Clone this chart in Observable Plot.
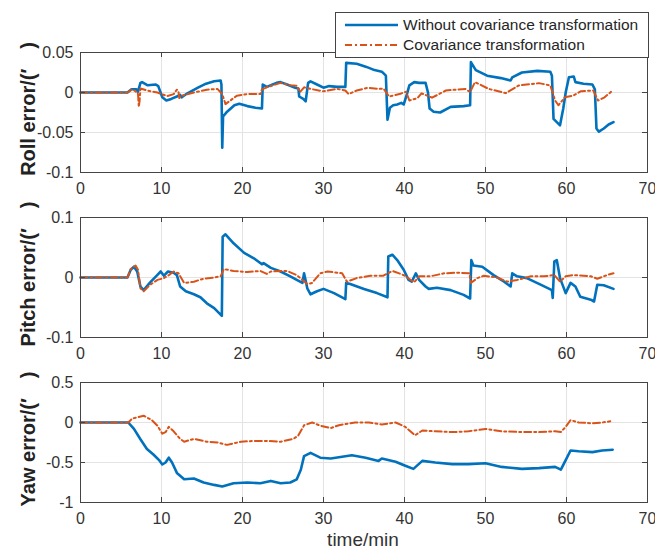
<!DOCTYPE html>
<html><head><meta charset="utf-8">
<script src="https://cdn.jsdelivr.net/npm/d3@7"></script>
<script src="https://cdn.jsdelivr.net/npm/@observablehq/plot@0.6"></script>
<style>
body{margin:0;background:#fff;}
#wrap{position:relative;width:655px;height:552px;font-family:"Liberation Sans",Arial,sans-serif;color:#333;background:#fff;overflow:hidden;}
.panel{position:absolute;left:0;}
.ylab{position:absolute;font-weight:bold;font-size:20px;white-space:pre;transform:translate(-50%,-50%) rotate(-90deg);color:#222;}
#xlab{position:absolute;left:363px;top:540px;transform:translate(-50%,-50%);font-size:19px;color:#333;white-space:nowrap;}
#legend{position:absolute;left:335px;top:12px;width:312px;height:44px;border:1px solid #444;background:#fff;}
#legend .row{position:absolute;left:0;height:20px;display:flex;align-items:center;}
#legend svg{margin-left:9px;margin-right:5px;}
#legend span{font-size:15.5px;color:#262626;white-space:nowrap;}
</style></head>
<body>
<div id="wrap"></div>
<script>
// time/min ticks
const xTicks = [0, 10, 20, 30, 40, 50, 60, 70];
const seriesNames = ["Without covariance transformation", "Covariance transformation"];
const yLabels = ["Roll error/(\u2032\u2003)", "Pitch error/(\u2032\u2003)", "Yaw error/(\u2032\u2003)"];
const rollTicks = [-0.1, -0.05, 0, 0.05];
const pitchTicks = [-0.1, 0, 0.1];
const yawTicks = [-1, -0.5, 0, 0.5];

// [time/min, error]
const rollWithout = [[0,0],[5.8,0],[6.3,0.004],[6.9,0.004],[7.1,0.001],[7.4,0.012],[7.6,0.013],[8.3,0.009],[9.3,0.010],[9.6,0.008],[10.1,-0.006],[10.6,-0.010],[11.2,-0.008],[11.9,-0.005],[12.3,-0.003],[12.5,-0.006],[13.2,-0.001],[14.5,0.006],[15.5,0.011],[16.5,0.014],[17.3,0.015],[17.4,0.010],[17.5,-0.069],[17.6,-0.030],[18.1,-0.024],[19.0,-0.016],[19.6,-0.014],[20.6,-0.017],[21.6,-0.019],[22.4,-0.020],[22.5,0.010],[23.0,0.007],[23.5,0.009],[24.2,0.012],[24.7,0.013],[25.5,0.010],[26.5,0.006],[26.9,0.005],[27.0,-0.005],[27.5,-0.008],[27.8,-0.011],[28.1,0.012],[28.4,0.014],[29.2,0.010],[30.0,0.006],[30.7,0.008],[31.7,0.007],[32.7,0.007],[32.8,0.037],[34.1,0.036],[35.3,0.032],[36.3,0.028],[37.2,0.026],[37.7,0.021],[37.9,-0.034],[38.2,-0.019],[38.6,-0.016],[39.1,-0.015],[39.6,-0.013],[39.9,-0.015],[40.3,-0.002],[40.6,0.009],[41.2,0.013],[41.8,0.012],[42.6,0.012],[42.9,0.000],[43.1,-0.020],[43.6,-0.024],[44.4,-0.025],[45.7,-0.018],[47.3,-0.017],[48.1,-0.016],[48.2,0.038],[48.8,0.028],[50.2,0.021],[51.9,0.018],[53.1,0.015],[53.3,0.019],[54.5,0.025],[56.4,0.027],[58.0,0.026],[58.2,0.021],[58.4,-0.033],[58.8,-0.037],[59.2,-0.041],[59.6,-0.020],[59.9,0.000],[60.3,0.019],[60.9,0.020],[61.1,0.013],[62.1,0.011],[63.2,0.010],[63.5,0.004],[63.7,-0.045],[64.0,-0.049],[64.6,-0.045],[65.2,-0.040],[65.8,-0.037]];
const rollCov = [[0,0],[5.8,0],[6.4,0.004],[7.0,0.000],[7.1,-0.002],[7.2,-0.018],[7.3,-0.010],[7.4,0.005],[8.2,0.0025],[9.5,0.000],[10.7,-0.0045],[11.5,-0.002],[11.9,0.0035],[12.1,0.001],[12.2,-0.007],[12.5,-0.004],[14.0,0.000],[15.6,0.0035],[16.9,0.0045],[17.5,-0.002],[17.9,-0.0145],[18.5,-0.010],[19.3,-0.004],[20.6,-0.002],[22.2,-0.002],[22.4,0.004],[23.0,0.0065],[24.7,0.012],[25.9,0.009],[26.7,0.0085],[27.1,0.0005],[27.6,0.0065],[28.4,0.0045],[30.0,0.0015],[31.7,0.0045],[32.7,0.0025],[33.1,-0.002],[34.1,0.0025],[35.5,0.006],[36.8,0.0045],[37.4,0.005],[38.1,-0.005],[39.5,-0.0015],[40.2,0.001],[40.6,-0.010],[41.6,-0.007],[42.1,-0.001],[43.4,-0.0065],[45.1,0.0025],[47.5,0.0045],[48.1,0.0005],[48.7,0.013],[50.4,0.0045],[52.5,-0.0008],[54.1,0.0088],[56.6,0.0117],[58.0,0.0088],[58.6,-0.010],[59.0,-0.016],[59.8,-0.006],[60.8,-0.004],[61.8,0.0017],[63.3,0.0025],[63.9,-0.010],[64.7,-0.006],[65.6,0.0017]];

const pitchWithout = [[0,0],[5.8,0],[6.2,0.013],[6.6,0.018],[7.0,0.010],[7.4,-0.015],[7.8,-0.021],[8.6,-0.008],[9.5,0.0045],[9.9,0.010],[10.3,0.003],[10.8,0.010],[11.5,0.008],[11.9,0.004],[12.3,-0.015],[13.0,-0.023],[14.0,-0.028],[14.8,-0.033],[15.6,-0.043],[16.5,-0.051],[17.3,-0.062],[17.45,-0.064],[17.55,0.068],[17.9,0.072],[18.9,0.057],[20.2,0.041],[21.4,0.032],[22.4,0.022],[22.6,0.024],[23.5,0.016],[24.7,0.010],[25.9,0.002],[26.7,-0.004],[27.4,-0.009],[27.6,0.007],[28.0,-0.018],[28.4,-0.028],[29.2,-0.023],[30.0,-0.019],[31.3,-0.026],[32.7,-0.036],[32.8,-0.009],[33.3,-0.011],[35.0,-0.019],[36.6,-0.026],[37.9,-0.033],[38.0,0.035],[38.5,0.038],[39.1,0.029],[39.9,0.013],[40.5,-0.004],[40.9,-0.007],[41.4,0.007],[41.8,-0.004],[42.6,-0.015],[43.0,-0.019],[44.0,-0.017],[45.7,-0.021],[47.3,-0.029],[48.1,-0.035],[48.25,0.029],[48.5,0.020],[49.6,0.018],[51.0,0.004],[52.3,-0.007],[53.1,-0.015],[53.3,0.007],[53.9,0.002],[55.1,-0.001],[56.8,-0.012],[58.2,-0.021],[58.3,-0.034],[58.5,0.027],[58.8,0.029],[59.2,-0.001],[59.9,-0.026],[60.5,-0.009],[61.1,-0.015],[61.7,-0.032],[63.0,-0.037],[63.4,-0.040],[63.8,-0.012],[64.6,-0.013],[65.8,-0.019]];
const pitchCov = [[0,0],[5.8,0],[6.2,0.014],[6.8,0.020],[7.1,0.013],[7.4,-0.018],[7.8,-0.023],[8.6,-0.012],[9.5,-0.004],[10.3,-0.001],[10.9,0.004],[11.5,0.010],[12.1,0.007],[12.8,-0.009],[14.0,-0.007],[15.2,-0.002],[16.5,0.000],[17.3,0.002],[17.7,0.014],[18.9,0.011],[20.6,0.009],[22.2,0.011],[23.0,0.006],[23.5,0.010],[25.5,0.011],[26.7,0.004],[27.4,-0.004],[28.0,-0.011],[28.6,-0.009],[29.6,0.007],[30.5,0.010],[32.3,0.007],[32.9,-0.007],[34.1,-0.001],[35.8,0.003],[37.4,0.003],[38.5,0.011],[39.9,0.004],[41.2,-0.008],[41.8,0.002],[43.2,0.002],[44.9,0.007],[46.5,0.008],[48.0,0.007],[48.2,-0.009],[49.0,-0.001],[49.8,0.003],[51.4,0.000],[52.7,-0.007],[53.9,-0.004],[55.6,0.002],[57.2,0.002],[58.5,0.004],[59.2,-0.007],[59.9,0.002],[60.9,0.004],[63.0,0.002],[63.8,-0.002],[65.0,0.004],[65.8,0.007]];

const yawWithout = [[0,0],[5.9,0],[6.6,-0.08],[7.4,-0.21],[8.2,-0.33],[9.0,-0.40],[9.7,-0.47],[10.1,-0.525],[10.5,-0.50],[10.9,-0.44],[11.3,-0.50],[11.9,-0.63],[12.8,-0.71],[14.0,-0.70],[15.2,-0.75],[16.5,-0.78],[17.5,-0.80],[18.9,-0.76],[20.6,-0.75],[22.2,-0.76],[23.5,-0.73],[24.7,-0.76],[25.9,-0.75],[26.7,-0.71],[27.2,-0.59],[27.6,-0.42],[28.4,-0.38],[29.6,-0.44],[30.9,-0.45],[33.5,-0.41],[35.2,-0.44],[36.8,-0.48],[37.2,-0.45],[38.9,-0.49],[40.1,-0.54],[41.1,-0.58],[42.2,-0.48],[43.8,-0.50],[45.9,-0.52],[47.9,-0.52],[50.0,-0.51],[52.0,-0.555],[54.5,-0.58],[56.6,-0.57],[58.6,-0.555],[59.3,-0.59],[59.9,-0.47],[60.5,-0.35],[61.5,-0.36],[63.2,-0.37],[64.4,-0.35],[65.7,-0.34]];
const yawCov = [[0,0],[5.9,0],[6.4,0.05],[7.8,0.085],[8.8,0.03],[9.5,-0.04],[10.1,-0.14],[10.5,-0.12],[10.9,-0.055],[11.5,-0.11],[12.3,-0.205],[12.8,-0.24],[14.0,-0.205],[15.6,-0.24],[16.9,-0.25],[18.1,-0.28],[19.8,-0.24],[21.4,-0.23],[23.0,-0.23],[24.7,-0.24],[26.3,-0.205],[26.9,-0.16],[27.6,-0.035],[28.6,0.0],[29.6,-0.04],[30.9,-0.07],[31.9,-0.034],[33.9,0],[35.6,0],[37.2,-0.025],[38.9,0],[40.1,-0.055],[41.3,-0.16],[42.2,-0.10],[43.8,-0.11],[45.9,-0.12],[47.9,-0.11],[50.0,-0.08],[52.0,-0.11],[54.5,-0.12],[56.6,-0.12],[58.6,-0.11],[59.3,-0.12],[59.9,-0.055],[60.5,0.03],[61.5,0.0],[63.2,-0.01],[64.4,0.0],[65.4,0.015]];

const BLUE = "#0072BD", ORANGE = "#D95319", DASH = "7,3,2,3";
const wrap = document.getElementById("wrap");
const H = 200, MT = 52, MB = 28, FH = H - MT - MB, FW = 655 - 80 - 8;

function panel(blue, orange, ticks, label, top) {
  const p = Plot.plot({
    width: 655, height: H, marginTop: MT, marginBottom: MB, marginLeft: 80, marginRight: 8,
    style: {fontFamily: '"Liberation Sans", Arial, sans-serif', fontSize: "16px", color: "#333", background: "transparent", overflow: "visible"},
    x: {domain: [0, 70]},
    y: {domain: [ticks[0], ticks[ticks.length - 1]]},
    marks: [
      Plot.gridX(xTicks, {stroke: "#e3e3e3", strokeOpacity: 1}),
      Plot.gridY(ticks, {stroke: "#e3e3e3", strokeOpacity: 1}),
      Plot.line(blue, {x: d => d[0], y: d => d[1], stroke: BLUE, strokeWidth: 2.6, strokeLinejoin: "round"}),
      Plot.line(orange, {x: d => d[0], y: d => d[1], stroke: ORANGE, strokeWidth: 2, strokeDasharray: DASH}),
      Plot.tickX(xTicks, {x: d => d, insetTop: FH - 5, stroke: "#444"}),
      Plot.tickX(xTicks, {x: d => d, insetBottom: FH - 5, stroke: "#444"}),
      Plot.tickY(ticks, {y: d => d, insetRight: FW - 5, stroke: "#444"}),
      Plot.tickY(ticks, {y: d => d, insetLeft: FW - 5, stroke: "#444"}),
      Plot.frame({stroke: "#444"}),
      Plot.axisX(xTicks, {tickSize: 0, tickPadding: 10, label: null, tickFormat: d => String(d)}),
      Plot.axisY(ticks, {tickSize: 0, tickPadding: 7, label: null, tickFormat: d => String(d)})
    ]
  });
  p.classList.add("panel");
  p.style.top = top + "px";
  wrap.appendChild(p);
  const l = document.createElement("div");
  l.className = "ylab";
  l.textContent = label;
  l.style.left = "28px";
  l.style.top = (top + MT + FH / 2 - 3) + "px";
  wrap.appendChild(l);
}

panel(rollWithout, rollCov, rollTicks, yLabels[0], 0);
panel(pitchWithout, pitchCov, pitchTicks, yLabels[1], 165);
panel(yawWithout, yawCov, yawTicks, yLabels[2], 330);

const xl = document.createElement("div");
xl.id = "xlab"; xl.textContent = "time/min";
wrap.appendChild(xl);

const leg = document.createElement("div");
leg.id = "legend";
[[BLUE, null, 2.6, 2], [ORANGE, DASH, 2, 22]].forEach(([c, dash, w, y], i) => {
  const row = document.createElement("div");
  row.className = "row";
  row.style.top = y + "px";
  row.innerHTML = `<svg width="53" height="10"><line x1="0" x2="53" y1="5" y2="5" stroke="${c}" stroke-width="${w}" ${dash ? `stroke-dasharray="${dash}"` : ""}/></svg><span></span>`;
  row.querySelector("span").textContent = seriesNames[i];
  leg.appendChild(row);
});
wrap.appendChild(leg);
</script>
</body></html>
